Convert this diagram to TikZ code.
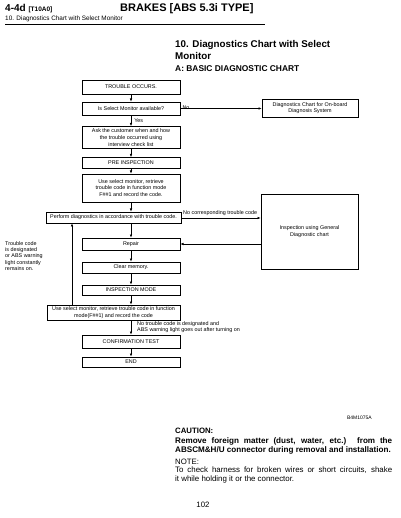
\documentclass[tikz,border=0pt]{standalone}
\usepackage{fontspec}
\setmainfont{Liberation Sans}
\usetikzlibrary{arrows.meta}
\tikzset{
  fbox/.style={draw, line width=0.6pt, minimum width=98pt, align=center, inner sep=1pt, font=\fontsize{5.4}{6.6}\selectfont},
  lab/.style={inner sep=0pt, align=left, font=\fontsize{5.4}{6.3}\selectfont},
  conn/.style={line width=0.6pt, -{Latex[length=3.2pt,width=2.6pt]}},
  plain/.style={line width=0.6pt}
}
\begin{document}
\begin{tikzpicture}[x=1pt,y=-1pt]
\useasboundingbox (0,0) rectangle (400,518);
% header
\node[anchor=base west, inner sep=0pt, font=\fontsize{10}{11}\bfseries\selectfont] (h1) at (5,12) {4-4d {\fontsize{6.5}{7}\selectfont [T10A0]}};
\node[anchor=base west, inner sep=0pt, font=\fontsize{11}{12}\bfseries\selectfont] (h2) at (120,12) {BRAKES [ABS 5.3i TYPE]};
\node[anchor=base west, inner sep=0pt, font=\fontsize{6.4}{7}\selectfont] (h3) at (5,20.5) {10. Diagnostics Chart with Select Monitor};
\coordinate (hl1) at (5,24);
\coordinate (hl2) at (265,24);
\draw[line width=0.8pt] (hl1) -- (hl2);
% title
\node[anchor=base west, inner sep=0pt, font=\fontsize{9.8}{12}\bfseries\selectfont] (t1) at (175,47.5) {10. Diagnostics Chart with Select};
\node[anchor=base west, inner sep=0pt, font=\fontsize{9.8}{12}\bfseries\selectfont] (t1b) at (175,59.5) {Monitor};
\node[anchor=base west, inner sep=0pt, font=\fontsize{8.4}{10}\bfseries\selectfont] (t2) at (175,71.5) {A: BASIC DIAGNOSTIC CHART};
% main column
\node[fbox, minimum height=14pt] (b1) at (131,87) {TROUBLE OCCURS.};
\node[fbox, minimum height=13pt] (b2) at (131,108.5) {Is Select Monitor available?};
\node[fbox, minimum height=22pt] (b3) at (131,137.5) {Ask the customer when and how\\the trouble occurred using\\interview check list};
\node[fbox, minimum height=11pt] (b4) at (131,163) {PRE INSPECTION};
\node[fbox, minimum height=28pt] (b5) at (131,188) {Use select monitor, retrieve\\trouble code in function mode\\F\#\#1 and record the code.};
\node[fbox, minimum width=135pt, minimum height=11pt] (b6) at (113.5,217.5) {Perform diagnostics in accordance with trouble code.};
\node[fbox, minimum height=12pt] (b7) at (131,244) {Repair};
\node[fbox, minimum height=11pt] (b8) at (131,267.5) {Clear memory.};
\node[fbox, minimum height=10pt] (b9) at (131,290) {INSPECTION MODE};
\node[fbox, minimum width=133pt, minimum height=15pt] (b10) at (113.5,312.5) {Use select monitor, retrieve trouble code in function\\mode(F\#\#1) and record the code};
\node[fbox, minimum height=13pt] (b11) at (131,341.5) {CONFIRMATION TEST};
\node[fbox, minimum height=10pt] (b12) at (131,362) {END};
% right column
\node[fbox, minimum width=96pt, minimum height=18pt] (r1) at (310,108) {Diagnostics Chart for On-board\\Diagnosis System};
\node[fbox, minimum width=97pt, minimum height=75pt] (r2) at (309.5,231.5) {Inspection using General\\Diagnostic chart};
% connectors
\draw[conn] (b1) -- (b2);
\draw[conn] (b2) -- (b3) node[lab, pos=0.45, right=3pt] (yes) {Yes};
\draw[conn] (b3) -- (b4);
\draw[conn] (b4) -- (b5);
\draw[conn] (b5.south) -- (b5.south |- b6.north);
\draw[conn] (b7.north |- b6.south) -- (b7.north);
\draw[conn] (b7) -- (b8);
\draw[conn] (b8) -- (b9);
\draw[conn] (b9.south) -- (b9.south |- b10.north);
\draw[conn] (b11.north |- b10.south) -- (b11.north);
\draw[conn] (b11) -- (b12);
\draw[conn] (b2.east) -- (b2.east -| r1.west);
\node[lab, anchor=south west] (no) at ([xshift=2pt,yshift=-1pt]b2.east) {No};
\coordinate (p1) at (b6.east |- 0,218);
\draw[conn] (p1) -- (p1 -| r2.west);
\node[lab, anchor=south west] (nocorr) at (183,216) {No corresponding trouble code};
\coordinate (q1) at (r2.west |- 0,244);
\draw[conn] (q1) -- (b7.east);
% loop back
\coordinate (l1) at (72,0);
\draw[conn] (l1 |- b10.north) -- (l1 |- b6.south);
\node[lab, anchor=north west] (loopl) at (5,241) {Trouble code\\is designated\\or ABS warning\\light constantly\\remains on.};
\node[lab, anchor=north west] (okl) at (137,321.5) {No trouble code is designated and\\ABS warning light goes out after turning on};
% footer
\node[anchor=base east, inner sep=0pt, font=\fontsize{5}{6}\selectfont] (code) at (372,419) {B4M1075A};
\node[anchor=base west, inner sep=0pt, font=\fontsize{7.8}{9}\bfseries\selectfont] (caut) at (175,433.5) {CAUTION:};
\node[anchor=north west, inner sep=0pt, text width=217pt, align=justify, font=\fontsize{8.1}{9.2}\bfseries\selectfont] (ctext) at (175,437) {Remove foreign matter (dust, water, etc.) from the\linebreak ABSCM\&H/U connector during removal and installation.};
\node[anchor=base west, inner sep=0pt, font=\fontsize{7.8}{9}\selectfont] (note) at (175,464) {NOTE:};
\node[anchor=north west, inner sep=0pt, text width=217pt, align=justify, font=\fontsize{7.9}{9.2}\selectfont] (ntext) at (175,466.5) {To check harness for broken wires or short circuits, shake\linebreak it while holding it or the connector.};
\node[anchor=base, inner sep=0pt, font=\fontsize{7.8}{9}\selectfont] (page) at (203,507) {102};
\end{tikzpicture}
\end{document}
